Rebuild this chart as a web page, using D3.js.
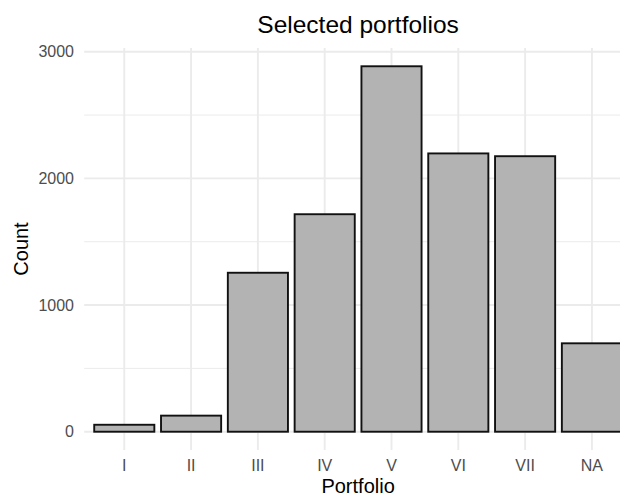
<!DOCTYPE html>
<html>
<head>
<meta charset="utf-8">
<script src="https://cdn.jsdelivr.net/npm/d3@7"></script>
<style>
  html, body { margin: 0; padding: 0; background: #ffffff; overflow: hidden; }
  svg { display: block; font-family: "Liberation Sans", Arial, Helvetica, sans-serif; }
</style>
</head>
<body>
<svg id="chart" width="620" height="497"></svg>
<script>
const categories = ["I", "II", "III", "IV", "V", "VI", "VII", "NA"];
const counts = [55, 127, 1255, 1717, 2885, 2197, 2175, 698];
const yTicks = [0, 1000, 2000, 3000];
const yMinorTicks = [500, 1500, 2500];
const titleText = "Selected portfolios";
const xTitle = "Portfolio";
const yTitle = "Count";

const svg = d3.select("#chart");
const panel = { left: 84.2, right: 632, top: 48, bottom: 450 };

const maxVal = d3.max(counts);
const pad = maxVal * 0.05;
const y = d3.scaleLinear().domain([-pad, maxVal + pad]).range([panel.bottom, panel.top]);
const x = d3.scaleBand().domain(categories).range([panel.left, panel.right])
  .paddingInner(0.1).paddingOuter(0.15);
const xc = d => x(d) + x.bandwidth() / 2;

// grid
const grid = svg.append("g");
grid.selectAll("line.minor").data(yMinorTicks).join("line")
  .attr("x1", panel.left).attr("x2", panel.right)
  .attr("y1", d => y(d)).attr("y2", d => y(d))
  .attr("stroke", "#ebebeb").attr("stroke-width", 1);
grid.selectAll("line.majy").data(yTicks).join("line")
  .attr("x1", panel.left).attr("x2", panel.right)
  .attr("y1", d => y(d)).attr("y2", d => y(d))
  .attr("stroke", "#ebebeb").attr("stroke-width", 1.9);
grid.selectAll("line.majx").data(categories).join("line")
  .attr("x1", d => xc(d)).attr("x2", d => xc(d))
  .attr("y1", panel.top).attr("y2", panel.bottom)
  .attr("stroke", "#ebebeb").attr("stroke-width", 1.9);

// bars
const data = categories.map((c, i) => ({ c, v: counts[i] }));
svg.append("g").selectAll("rect").data(data).join("rect")
  .attr("x", d => x(d.c))
  .attr("width", x.bandwidth())
  .attr("y", d => y(d.v))
  .attr("height", d => y(0) - y(d.v))
  .attr("fill", "#b3b3b3")
  .attr("stroke", "#111111")
  .attr("stroke-width", 1.9);

// axes
const yAxis = svg.append("g").attr("transform", `translate(${panel.left},0)`)
  .call(d3.axisLeft(y).tickValues(yTicks).tickSize(0).tickPadding(10.2).tickFormat(d3.format("d")));
const xAxis = svg.append("g").attr("transform", `translate(0,${panel.bottom})`)
  .call(d3.axisBottom(x).tickSize(0).tickPadding(9.3));
[yAxis, xAxis].forEach(a => {
  a.select(".domain").remove();
  a.selectAll("text").attr("fill", "#4d4d4d").style("font-size", "16px")
    .style("font-family", "'Liberation Sans', Arial, sans-serif");
});

// titles
svg.append("text").attr("x", (panel.left + panel.right) / 2).attr("y", 33.3)
  .attr("text-anchor", "middle").attr("fill", "#000").style("font-size", "24.5px")
  .text(titleText);
svg.append("text").attr("x", (panel.left + panel.right) / 2).attr("y", 493)
  .attr("text-anchor", "middle").attr("fill", "#000").style("font-size", "20px")
  .text(xTitle);
svg.append("text").attr("transform", `translate(27.5,${(panel.top + panel.bottom) / 2}) rotate(-90)`)
  .attr("text-anchor", "middle").attr("fill", "#000").style("font-size", "20px")
  .text(yTitle);
</script>
</body>
</html>
